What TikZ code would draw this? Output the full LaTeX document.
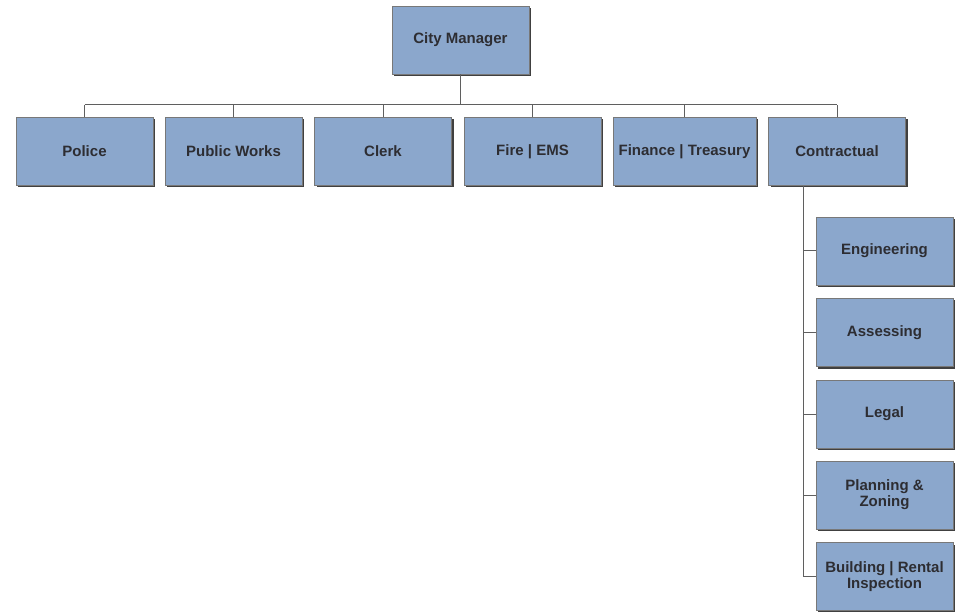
\documentclass[tikz,border=0pt]{standalone}
\usepackage{fontspec}
\setmainfont{Liberation Sans}
\usetikzlibrary{shadows}
\definecolor{boxfill}{RGB}{139,167,204}
\definecolor{boxline}{RGB}{120,120,120}
\definecolor{txt}{RGB}{45,45,50}
\definecolor{conn}{RGB}{95,95,95}
\tikzset{
  orgbox/.style={draw=boxline, line width=0.8pt, fill=boxfill, minimum height=68pt,
    minimum width=137pt, inner sep=2pt, align=center, text=txt,
    font=\fontsize{15}{16}\selectfont\bfseries,
    drop shadow={shadow xshift=2pt, shadow yshift=-2pt, fill=black!75, opacity=1}},
  conline/.style={draw=conn, line width=1pt}
}
\begin{document}
\begin{tikzpicture}[x=1pt,y=-1pt]
\useasboundingbox (0,0) rectangle (956,612);
\node[orgbox] (cm) at (460.5,40) {City Manager};
\node[orgbox] (police) at (84.5,151.5) {Police};
\node[orgbox] (pw) at (233.5,151.5) {Public Works};
\node[orgbox] (clerk) at (383,151.5) {Clerk};
\node[orgbox] (fire) at (532.5,151.5) {Fire | EMS};
\node[orgbox, minimum width=143pt] (fin) at (684.5,151.5) {Finance | Treasury};
\node[orgbox] (con) at (837,151.5) {Contractual};
\node[orgbox] (eng) at (884.5,251) {Engineering};
\node[orgbox] (ass) at (884.5,332.5) {Assessing};
\node[orgbox] (leg) at (884.5,414) {Legal};
\node[orgbox] (plan) at (884.5,495) {Planning \&\\Zoning};
\node[orgbox] (bld) at (884.5,576.5) {Building | Rental\\Inspection};
\coordinate (bus) at (460.5,105);
\coordinate (vx) at (803,186);
\begin{scope}[on background layer/.try]
\draw[conline] (cm.south) -- (bus);
\foreach \n in {police,pw,clerk,fire,fin,con}
  \draw[conline] (\n.north) -- (\n.north |- bus);
\draw[conline] (police.north |- bus) -- (con.north |- bus);
\draw[conline] (vx |- con.south) -- (vx |- bld.west) -- (bld.west);
\foreach \n in {eng,ass,leg,plan}
  \draw[conline] (vx |- \n.west) -- (\n.west);
\end{scope}
\end{tikzpicture}
\end{document}
